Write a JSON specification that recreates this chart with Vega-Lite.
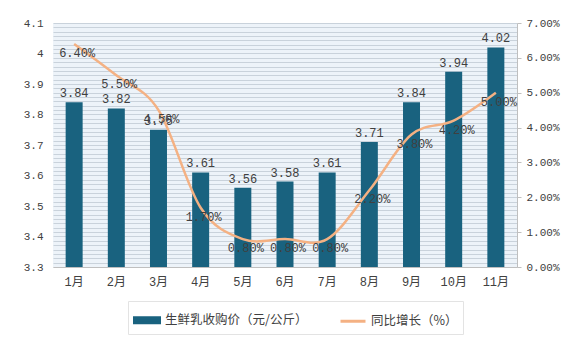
{
  "$schema": "https://vega.github.io/schema/vega-lite/v6.json",
  "width": 464,
  "height": 244,
  "autosize": "none",
  "padding": {"left": 53, "top": 23, "right": 67, "bottom": 73},
  "background": "#ffffff",
  "config": {
    "view": {"stroke": null, "fill": "#edf3f9"},
    "font": "Liberation Mono, Noto Sans CJK SC",
    "axis": {"labelColor": "#404040", "labelFont": "Liberation Mono, Noto Sans CJK SC", "title": null}
  },
  "data": {
    "values": [
      {"month": "1月", "price": 3.84, "yoy": 0.064},
      {"month": "2月", "price": 3.82, "yoy": 0.055},
      {"month": "3月", "price": 3.75, "yoy": 0.045},
      {"month": "4月", "price": 3.61, "yoy": 0.017},
      {"month": "5月", "price": 3.56, "yoy": 0.008},
      {"month": "6月", "price": 3.58, "yoy": 0.008},
      {"month": "7月", "price": 3.61, "yoy": 0.008},
      {"month": "8月", "price": 3.71, "yoy": 0.022},
      {"month": "9月", "price": 3.84, "yoy": 0.038},
      {"month": "10月", "price": 3.94, "yoy": 0.042},
      {"month": "11月", "price": 4.02, "yoy": 0.05}
    ]
  },
  "encoding": {
    "x": {
      "field": "month",
      "type": "nominal",
      "sort": null,
      "scale": {"paddingInner": 0.597, "paddingOuter": 0.3},
      "axis": {"labelAngle": 0, "ticks": false, "domainColor": "#bfbfbf", "labelPadding": 9, "labelFontSize": 12, "labelOverlap": false}
    }
  },
  "layer": [
    {
      "layer": [
        {
          "mark": {"type": "bar", "color": "#19627f", "clip": true},
          "encoding": {
            "y": {
              "field": "price",
              "type": "quantitative",
              "scale": {"domain": [3.3, 4.1], "zero": false, "nice": false},
              "axis": {
                "orient": "left",
                "values": [3.3,3.31429,3.32857,3.34286,3.35714,3.37143,3.38571,3.4,3.41429,3.42857,3.44286,3.45714,3.47143,3.48571,3.5,3.51429,3.52857,3.54286,3.55714,3.57143,3.58571,3.6,3.61429,3.62857,3.64286,3.65714,3.67143,3.68571,3.7,3.71429,3.72857,3.74286,3.75714,3.77143,3.78571,3.8,3.81429,3.82857,3.84286,3.85714,3.87143,3.88571,3.9,3.91429,3.92857,3.94286,3.95714,3.97143,3.98571,4.0,4.01429,4.02857,4.04286,4.05714,4.07143,4.08571,4.1],
                "tickCount": 200,
                "labelOverlap": false,
                "labelExpr": "abs(datum.value*10 - round(datum.value*10)) < 0.001 ? toString(round(datum.value*10)/10) : ''",
                "grid": true,
                "gridColor": "#c9d2db",
                "ticks": false,
                "domain": false,
                "labelPadding": 10,
                "labelFontSize": 11
              }
            },
            "y2": {"datum": 3.3},
            "color": {
              "datum": "生鲜乳收购价（元/公斤）",
              "scale": {"domain": ["生鲜乳收购价（元/公斤）", "同比增长（%）"], "range": ["#19627f", "#f4b183"]},
              "legend": {
                "orient": "none",
                "legendX": 75,
                "legendY": 278,
                "direction": "horizontal",
                "title": null,
                "columnPadding": 26,
                "symbolSize": 625,
                "labelFont": "Noto Sans CJK SC",
                "labelFontSize": 12.5,
                "labelColor": "#404040",
                "labelOffset": 4,
                "fillColor": "#ffffff",
                "strokeColor": "#e3e3e3",
                "padding": 5,
                "encode": {
                  "symbols": {
                    "update": {
                      "shape": {"signal": "datum.value === '同比增长（%）' ? 'stroke' : 'M-1,-0.2H1V0.2H-1Z'"},
                      "fill": {"signal": "datum.value === '同比增长（%）' ? 'transparent' : '#19627f'"},
                      "stroke": {"signal": "datum.value === '同比增长（%）' ? '#f4b183' : 'transparent'"},
                      "strokeWidth": {"value": 3},
                      "size": {"value": 625},
                      "opacity": {"value": 1}
                    }
                  }
                }
              }
            }
          }
        },
        {
          "mark": {"type": "text", "baseline": "bottom", "dy": -2, "fontSize": 12, "color": "#404040"},
          "encoding": {
            "y": {"field": "price", "type": "quantitative"},
            "text": {"field": "price", "type": "quantitative", "format": ".2f"}
          }
        }
      ]
    },
    {
      "layer": [
        {
          "mark": {"type": "line", "interpolate": "cardinal", "strokeWidth": 2.5},
          "encoding": {
            "y": {
              "field": "yoy",
              "type": "quantitative",
              "scale": {"domain": [0, 0.07], "nice": false},
              "axis": {
                "orient": "right",
                "values": [0, 0.01, 0.02, 0.03, 0.04, 0.05, 0.06, 0.07],
                "tickCount": 100,
                "labelOverlap": false,
                "format": ".2%",
                "grid": false,
                "domainColor": "#bfbfbf",
                "tickColor": "#bfbfbf",
                "tickSize": 4,
                "labelPadding": 5,
                "labelFontSize": 11
              }
            },
            "color": {"datum": "同比增长（%）"}
          }
        },
        {
          "mark": {"type": "text", "baseline": "middle", "dy": 9, "dx": 3, "fontSize": 12, "color": "#404040"},
          "encoding": {
            "y": {"field": "yoy", "type": "quantitative"},
            "text": {"field": "yoy", "type": "quantitative", "format": ".2%"}
          }
        }
      ]
    }
  ],
  "resolve": {"scale": {"y": "independent"}}
}
